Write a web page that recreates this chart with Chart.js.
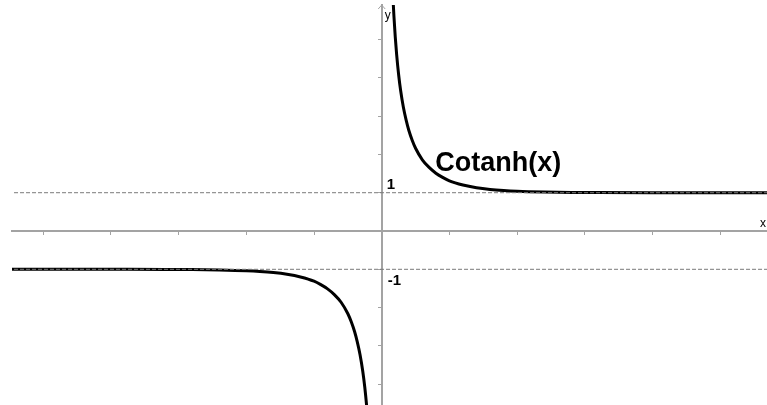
<!DOCTYPE html>
<html><head><meta charset="utf-8">
<script src="https://cdn.jsdelivr.net/npm/chart.js@4"></script>
<style>html,body{margin:0;padding:0;background:#fff}</style>
</head><body>
<canvas id="c" width="767" height="405"></canvas>
<script>
// Values (right branch, x > 0)
const posX = [0.16, 0.18, 0.2, 0.22, 0.25, 0.28, 0.32, 0.36, 0.4, 0.45, 0.5, 0.6, 0.7, 0.8, 0.9, 1.0, 1.2, 1.4, 1.6, 1.8, 2.0, 2.4, 2.8, 3.2, 4.0, 5.0, 5.8];
const posY = [6.30, 5.62, 5.07, 4.62, 4.08, 3.66, 3.23, 2.90, 2.63, 2.37, 2.16, 1.86, 1.66, 1.51, 1.40, 1.31, 1.20, 1.13, 1.085, 1.056, 1.037, 1.017, 1.007, 1.003, 1.001, 1.0, 1.0];
// Left branch, x < 0
const negX = [-5.6, -5.0, -4.0, -3.2, -2.8, -2.4, -2.0, -1.8, -1.6, -1.4, -1.2, -1.0, -0.9, -0.8, -0.7, -0.6, -0.5, -0.45, -0.4, -0.36, -0.32, -0.28, -0.25, -0.22, -0.2, -0.18];
const negY = [-1.0, -1.0, -1.001, -1.003, -1.007, -1.017, -1.037, -1.056, -1.085, -1.13, -1.20, -1.31, -1.40, -1.51, -1.66, -1.86, -2.16, -2.37, -2.63, -2.90, -3.23, -3.66, -4.08, -4.62, -5.07, -5.62];
const asymptotes = [1, -1];
const xRange = [-5.461, 5.691];
const yRange = [-4.543, 5.901];
const tickStep = 1;
const yTickLabels = ['1', '-1'];
const curveLabel = 'Cotanh(x)';
const axisNames = ['x', 'y'];

const AXIS = '#a3a3a3';
const toPts = (xs, ys) => xs.map((x, i) => ({x, y: ys[i]}));

const decor = {
  id: 'decor',
  afterDatasetsDraw(chart) {
    const {ctx, scales: {x, y}} = chart;
    const x0 = x.getPixelForValue(0), y0 = y.getPixelForValue(0);
    ctx.save();
    // arrow at top of y axis
    ctx.strokeStyle = AXIS; ctx.lineWidth = 1;
    ctx.beginPath();
    ctx.moveTo(x0 - 3.5, chart.chartArea.top + 4);
    ctx.lineTo(x0, chart.chartArea.top);
    ctx.lineTo(x0 + 3.5, chart.chartArea.top + 4);
    ctx.stroke();
    ctx.fillStyle = '#000';
    ctx.textBaseline = 'alphabetic';
    ctx.textAlign = 'left';
    ctx.font = '12px "Liberation Sans", Arial, sans-serif';
    ctx.fillText(axisNames[1], x0 + 3, chart.chartArea.top + 14);
    ctx.fillText(axisNames[0], chart.chartArea.right - 7, y0 - 4);
    ctx.font = 'bold 15px "Liberation Sans", Arial, sans-serif';
    ctx.fillText(yTickLabels[0], x0 + 5, y.getPixelForValue(1) - 4);
    ctx.fillText(yTickLabels[1], x0 + 6, y.getPixelForValue(-1) + 16);
    ctx.font = 'bold 27px "Liberation Sans", Arial, sans-serif';
    ctx.fillText(curveLabel, x.getPixelForValue(0.79), y.getPixelForValue(1.57));
    ctx.restore();
  }
};

new Chart(document.getElementById('c'), {
  type: 'line',
  data: {
    datasets: [
      {data: toPts([xRange[0] + 0.03, xRange[1]], [asymptotes[0], asymptotes[0]]), borderColor: '#7a7a7a', borderWidth: 1, borderDash: [4, 2], pointRadius: 0},
      {data: toPts([xRange[0] + 0.03, xRange[1]], [asymptotes[1], asymptotes[1]]), borderColor: '#7a7a7a', borderWidth: 1, borderDash: [4, 2], pointRadius: 0},
      {data: toPts(posX, posY), borderColor: '#000', borderWidth: 3, pointRadius: 0, cubicInterpolationMode: 'monotone'},
      {data: toPts(negX, negY), borderColor: '#000', borderWidth: 3, pointRadius: 0, cubicInterpolationMode: 'monotone'}
    ]
  },
  options: {
    responsive: false,
    animation: false,
    events: [],
    layout: {padding: {left: 12, top: 5, right: 0, bottom: 0}},
    plugins: {legend: {display: false}, tooltip: {enabled: false}},
    scales: {
      x: {
        type: 'linear', min: xRange[0], max: xRange[1], position: {y: 0},
        afterFit(s) { s.height = 0; },
        ticks: {display: false, stepSize: tickStep, includeBounds: false},
        grid: {drawOnChartArea: false, drawTicks: true, tickLength: 3, color: AXIS, lineWidth: 1},
        border: {display: true, color: AXIS, width: 2}
      },
      y: {
        type: 'linear', min: yRange[0], max: yRange[1], position: {x: 0},
        afterFit(s) { s.width = 0; },
        ticks: {display: false, stepSize: tickStep, includeBounds: false},
        grid: {drawOnChartArea: false, drawTicks: true, tickLength: 3, color: AXIS, lineWidth: 1},
        border: {display: true, color: AXIS, width: 2}
      }
    }
  },
  plugins: [decor]
});
</script>
</body></html>
